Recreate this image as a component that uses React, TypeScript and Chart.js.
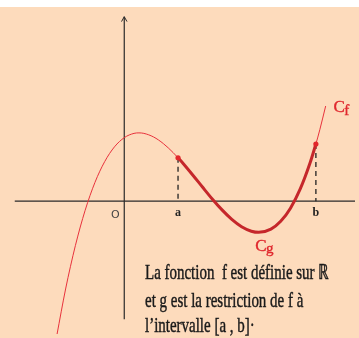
import React, { useEffect, useRef } from "react";
import { Chart, registerables } from "chart.js";
Chart.register(...registerables);

// Curve C_f (1 unit = one grid step)
const cfX = [-6.9, -6, -5, -4, -3, -2, -1, 0, 1, 1.5, 2, 3, 4, 5, 5.5, 6, 7, 8, 9, 10, 11, 12, 13, 13.75, 15, 16, 17, 18, 19, 19.6, 20, 20.6];
const cfY = [-13.76, -8.99, -4.55, -0.93, 1.92, 4.06, 5.57, 6.51, 6.95, 7.0, 6.95, 6.58, 5.9, 4.98, 4.45, 3.89, 2.69, 1.45, 0.23, -0.89, -1.86, -2.61, -3.07, -3.19, -2.86, -2.06, -0.71, 1.26, 3.91, 5.86, 7.32, 9.75];
// Restriction C_g on [a, b]
const cgX = [5.5, 6, 7, 8, 9, 10, 11, 12, 13, 13.75, 15, 16, 17, 18, 19, 19.6];
const cgY = [4.45, 3.89, 2.69, 1.45, 0.23, -0.89, -1.86, -2.61, -3.07, -3.19, -2.86, -2.06, -0.71, 1.26, 3.91, 5.86];
// endpoints a and b
const endX = [5.5, 19.6];
const endY = [4.45, 5.86];
const endLabels = ["a", "b"];
const originLabel = "O";
const curveLabels = [
  { main: "C", sub: "f", x: 21.4, y: 9.1, dy: 3 },
  { main: "C", sub: "g", x: 13.4, y: -5.1, dy: 2 },
];
const noteLines = [
  "La fonction  f est définie sur ℝ",
  "et g est la restriction de f à",
  "l’intervalle [a , b]·",
];
const xAxisRange = [-11.2, 23.6];
const yAxisRange = [-12.1, 18.9];

const BG = "#FDDBBC";

export default function App() {
  const ref = useRef<HTMLCanvasElement>(null);
  useEffect(() => {
    document.body.style.margin = "0";
    const pts = (xs: number[], ys: number[]) => xs.map((x, i) => ({ x, y: ys[i] }));
    const bgPlugin = {
      id: "bg",
      beforeDraw(chart: any) {
        const ctx = chart.ctx;
        ctx.save();
        ctx.fillStyle = "#ffffff";
        ctx.fillRect(0, 0, chart.width, chart.height);
        ctx.fillStyle = BG;
        ctx.fillRect(0, 7, chart.width, chart.height - 7);
        ctx.restore();
      },
    };
    const textPlugin = {
      id: "texts",
      afterDraw(chart: any) {
        const ctx = chart.ctx;
        const xs = chart.scales.x;
        const ys = chart.scales.y;
        const y0 = ys.getPixelForValue(0);
        ctx.save();
        // origin label
        ctx.fillStyle = "#444";
        ctx.font = "11px 'DejaVu Sans', sans-serif";
        ctx.textAlign = "center";
        ctx.textBaseline = "alphabetic";
        ctx.fillText(originLabel, xs.getPixelForValue(0) - 9, y0 + 17);
        // a, b
        ctx.fillStyle = "#222";
        ctx.font = "bold 12px 'Liberation Serif', serif";
        endLabels.forEach((l, i) => {
          ctx.fillText(l, xs.getPixelForValue(endX[i]), y0 + 15);
        });
        // curve labels
        ctx.fillStyle = "#E0282E";
        ctx.strokeStyle = "#E0282E";
        ctx.lineWidth = 0.4;
        ctx.textAlign = "left";
        curveLabels.forEach((c) => {
          const px = xs.getPixelForValue(c.x);
          const py = ys.getPixelForValue(c.y);
          ctx.font = "17px 'Liberation Serif', serif";
          ctx.fillText(c.main, px, py);
          ctx.strokeText(c.main, px, py);
          const w = ctx.measureText(c.main).width;
          ctx.font = "15px 'Liberation Serif', serif";
          ctx.fillText(c.sub, px + w - 0.5, py + c.dy);
          ctx.strokeText(c.sub, px + w - 0.5, py + c.dy);
        });
        // note text (condensed serif)
        ctx.fillStyle = "#1a1a1a";
        ctx.strokeStyle = "#1a1a1a";
        ctx.lineWidth = 0.45;
        ctx.font = "21px 'Liberation Serif', serif";
        const w0 = ctx.measureText(noteLines[0]).width;
        const sx = 184 / w0;
        const baselines = [278.5, 307, 332];
        noteLines.forEach((line, i) => {
          ctx.save();
          ctx.translate(145, baselines[i]);
          ctx.scale(sx, 1);
          ctx.fillText(line, 0, 0);
          ctx.strokeText(line, 0, 0);
          ctx.restore();
        });
        ctx.restore();
      },
    };
    const chart = new Chart(ref.current!, {
      type: "scatter",
      data: {
        datasets: [
          {
            data: pts(endX, endY),
            showLine: false,
            pointRadius: 2.6,
            pointBackgroundColor: "#E2262B",
            pointBorderWidth: 0,
          },
          {
            data: pts(cgX, cgY),
            showLine: true,
            borderColor: "#C5272B",
            borderWidth: 3,
            pointRadius: 0,
            cubicInterpolationMode: "monotone",
          },
          {
            data: pts(cfX, cfY),
            showLine: true,
            borderColor: "#E8323C",
            borderWidth: 1,
            pointRadius: 0,
            cubicInterpolationMode: "monotone",
          },
          ...endX.map((x, i) => ({
            data: [{ x, y: endY[i] }, { x, y: 0 }],
            showLine: true,
            borderColor: "#222",
            borderWidth: 1.3,
            borderDash: [5, 4],
            pointRadius: 0,
          })),
          {
            data: [{ x: xAxisRange[0], y: 0 }, { x: xAxisRange[1], y: 0 }],
            showLine: true,
            borderColor: "#2a2a2a",
            borderWidth: 1.2,
            pointRadius: 0,
          },
          {
            data: [{ x: 0, y: yAxisRange[0] }, { x: 0, y: yAxisRange[1] }],
            showLine: true,
            borderColor: "#2a2a2a",
            borderWidth: 1.2,
            pointRadius: 0,
          },
          {
            data: [{ x: -0.28, y: 18.4 }, { x: 0, y: yAxisRange[1] }, { x: 0.28, y: 18.4 }],
            showLine: true,
            borderColor: "#2a2a2a",
            borderWidth: 1,
            pointRadius: 0,
          },
        ],
      },
      options: {
        animation: false,
        responsive: false,
        devicePixelRatio: 1,
        layout: { padding: 0 },
        plugins: { legend: { display: false }, tooltip: { enabled: false } },
        events: [],
        scales: {
          x: { type: "linear", min: -12.3, max: 23.6, display: false },
          y: { type: "linear", min: -13.6, max: 20.2, display: false },
        },
      },
      plugins: [bgPlugin, textPlugin],
    } as any);
    return () => chart.destroy();
  }, []);
  return <canvas ref={ref} width={359} height={338} style={{ display: "block" }} />;
}
